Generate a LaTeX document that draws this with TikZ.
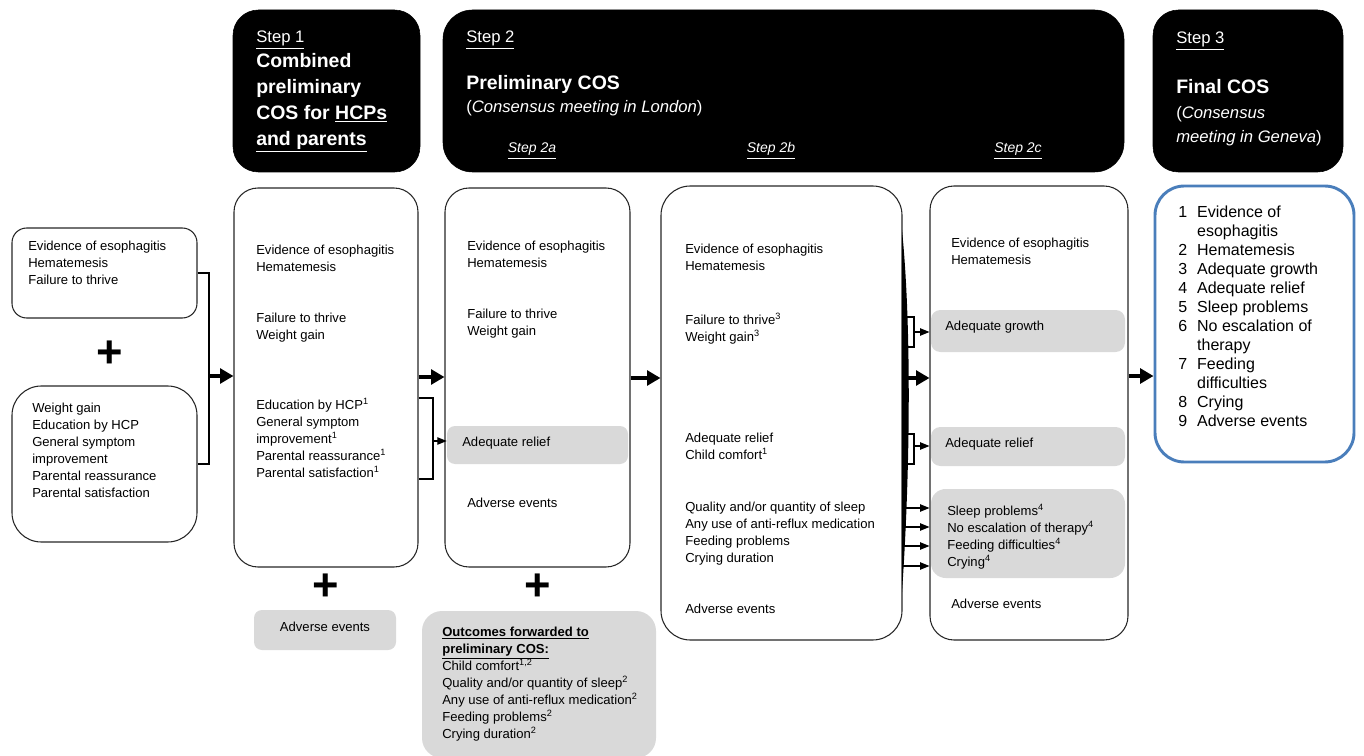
\documentclass[tikz,border=0pt]{standalone}
\usepackage{fontspec}
\setmainfont{Liberation Sans}
\usetikzlibrary{positioning}
\usetikzlibrary{fit}
\usetikzlibrary{arrows.meta}
\definecolor{cosblue}{HTML}{4A7EBB}
\definecolor{cosgrey}{HTML}{D9D9D9}

\begin{document}
\begin{tikzpicture}[x=0.75pt, y=-0.75pt,
    headbox/.style={rectangle, fill=black, draw=black, rounded corners=#1, inner sep=0pt},
    listbox/.style={rectangle, draw=black!85, line width=0.8pt, rounded corners=#1, inner sep=0pt},
    greybox/.style={rectangle, fill=cosgrey, rounded corners=#1, inner sep=0pt},
    finalbox/.style={rectangle, draw=cosblue, line width=2.2pt, rounded corners=22pt, inner sep=0pt},
    itemtext/.style={anchor=north west, align=left, inner sep=0pt, font=\fontsize{9.8}{12.75}\selectfont},
    steplabel/.style={anchor=base west, inner sep=0pt, text=white, font=\fontsize{12.5}{15}\selectfont},
    substep/.style={anchor=base, inner sep=0pt, text=white, font=\fontsize{10.5}{12}\selectfont\itshape},
    titletext/.style={anchor=base west, inner sep=0pt, text=white, font=\fontsize{14.6}{19.5}\selectfont\bfseries},
    titleblock/.style={anchor=north west, align=left, inner sep=0pt, text=white, font=\fontsize{14.6}{19.5}\selectfont\bfseries},
    subtext/.style={anchor=base west, inner sep=0pt, text=white, font=\fontsize{12.5}{18}\selectfont},
    subblock/.style={anchor=north west, align=left, inner sep=0pt, text=white, font=\fontsize{12.5}{18}\selectfont},
    plussign/.style={inner sep=0pt, font=\fontsize{34}{34}\selectfont\bfseries},
    bigarrow/.style={-{Triangle[length=10pt,width=11pt]}, line width=2.6pt},
    smallarrow/.style={-{Triangle[length=7pt,width=5.5pt]}, line width=0.8pt},
    bracket/.style={line width=1.3pt},
    thinbracket/.style={line width=0.9pt},
  ]
  \useasboundingbox (0,0) rectangle (1364,756);

  % Headers
  \node[headbox=19pt, fit={(233,10) (420,172)}] (step1_head) {};
  \node[steplabel] (step1_label) at (256,43) {\underline{Step 1}};
  \node[titleblock] (step1_title) at (256,53) {Combined\\preliminary\\COS for \underline{HCPs}\\\underline{and parents}};

  \node[headbox=22pt, fit={(443,10) (1124,172)}] (step2_head) {};
  \node[steplabel] (step2_label) at (466,43) {\underline{Step 2}};
  \node[titletext] (step2_title) at (466,90) {Preliminary COS};
  \node[subtext] (step2_sub) at (466,113) {(\textit{Consensus meeting in London})};
  \node[substep] (step2a_label) at (532,153) {\underline{Step 2a}};
  \node[substep] (step2b_label) at (771,153) {\underline{Step 2b}};
  \node[substep] (step2c_label) at (1018,153) {\underline{Step 2c}};

  \node[headbox=19pt, fit={(1153,10) (1343,172)}] (step3_head) {};
  \node[steplabel] (step3_label) at (1176,44) {\underline{Step 3}};
  \node[titletext] (step3_title) at (1176,94) {Final COS};
  \node[subblock] (step3_sub) at (1176,106) {(\textit{Consensus}\\\textit{meeting in Geneva})};

  % Starting lists
  \node[listbox=11pt, fit={(12,228) (197,318)}] (left_top) {};
  \node[itemtext] (left_top_text) at (28,241) {Evidence of esophagitis\\Hematemesis\\Failure to thrive};
  \node[plussign] (plus_0) at (110,354) {+};
  \node[listbox=22pt, fit={(12,386) (197,542)}] (left_bot) {};
  \node[itemtext] (left_bot_text) at (32,403) {Weight gain\\Education by HCP\\General symptom\\improvement\\Parental reassurance\\Parental satisfaction};

  % Step 1
  \node[listbox=18pt, fit={(234,188) (418,567)}] (step1_box) {};
  \node[itemtext] (step1_a) at (256,245) {Evidence of esophagitis\\Hematemesis};
  \node[itemtext] (step1_b) at (256,313) {Failure to thrive\\Weight gain};
  \node[itemtext] (step1_c) at (256,398) {Education by HCP\textsuperscript{1}\\General symptom\\improvement\textsuperscript{1}\\Parental reassurance\textsuperscript{1}\\Parental satisfaction\textsuperscript{1}};
  \node[plussign] (plus_1) at (step1_box.south |- 0,587) {+};
  \node[greybox=6pt, fit={(254,610) (396,650)}] (step1_adverse) {};
  \node[itemtext, anchor=center] (step1_adverse_text) at (325,627) {Adverse events};

  % Step 2a
  \node[listbox=18pt, fit={(445,188) (630,567)}] (step2a_box) {};
  \node[itemtext] (step2a_a) at (467,241) {Evidence of esophagitis\\Hematemesis};
  \node[itemtext] (step2a_b) at (467,309) {Failure to thrive\\Weight gain};
  \node[greybox=6pt, fit={(447,426) (628,464)}] (step2a_relief) {};
  \node[itemtext] (step2a_relief_text) at (462,437) {Adequate relief};
  \node[itemtext] (step2a_c) at (467,498) {Adverse events};
  \node[plussign] (plus_2) at (step2a_box.south |- 0,587) {+};
  \node[greybox=15pt, fit={(422,611) (656,758)}] (forwarded) {};
  \node[itemtext] (forwarded_text) at (442,627) {\underline{\textbf{Outcomes forwarded to}}\\\underline{\textbf{preliminary COS:}}\\Child comfort\textsuperscript{1,2}\\Quality and/or quantity of sleep\textsuperscript{2}\\Any use of anti-reflux medication\textsuperscript{2}\\Feeding problems\textsuperscript{2}\\Crying duration\textsuperscript{2}};

  % Step 2b
  \node[listbox=22pt, fit={(661,186) (902,640)}] (step2b_box) {};
  \node[itemtext] (step2b_a) at (685,244) {Evidence of esophagitis\\Hematemesis};
  \node[itemtext] (step2b_b) at (685,313) {Failure to thrive\textsuperscript{3}\\Weight gain\textsuperscript{3}};
  \node[itemtext] (step2b_c) at (685,433) {Adequate relief\\Child comfort\textsuperscript{1}};
  \node[itemtext] (step2b_d) at (685,502) {Quality and/or quantity of sleep\\Any use of anti-reflux medication\\Feeding problems\\Crying duration};
  \node[itemtext] (step2b_e) at (685,604) {Adverse events};
  \fill (902,230) .. controls (911,320) and (911,460) .. (902,592) -- cycle;

  % Step 2c
  \node[listbox=18pt, fit={(930,186) (1128,640)}] (step2c_box) {};
  \node[itemtext] (step2c_a) at (951,238) {Evidence of esophagitis\\Hematemesis};
  \node[greybox=7pt, fit={(931,310) (1125,352)}] (step2c_growth) {};
  \node[itemtext] (step2c_growth_text) at (945,321) {Adequate growth};
  \node[greybox=7pt, fit={(931,427) (1125,466)}] (step2c_relief) {};
  \node[itemtext] (step2c_relief_text) at (945,438) {Adequate relief};
  \node[greybox=11pt, fit={(931,489) (1125,578)}] (step2c_other) {};
  \node[itemtext] (step2c_other_text) at (947,504) {Sleep problems\textsuperscript{4}\\No escalation of therapy\textsuperscript{4}\\Feeding difficulties\textsuperscript{4}\\Crying\textsuperscript{4}};
  \node[itemtext] (step2c_e) at (951,599) {Adverse events};

  % Step 3
  \node[finalbox, fit={(1155,186) (1354,462)}] (final_box) {};
  \node[anchor=north west, inner sep=0pt, font=\fontsize{12}{14.25}\selectfont] (final_list) at (1178,204) {%
    \begin{tabular}{@{}l@{\hspace{7.5pt}}l@{}}
      1 & Evidence of\\ & esophagitis\\
      2 & Hematemesis\\
      3 & Adequate growth\\
      4 & Adequate relief\\
      5 & Sleep problems\\
      6 & No escalation of\\ & therapy\\
      7 & Feeding\\ & difficulties\\
      8 & Crying\\
      9 & Adverse events
    \end{tabular}};

  %Lines
  \coordinate (join_0) at (209,376);
  \draw[bracket] (left_top.east) -| (join_0) |- (left_bot.east);
  \draw[bigarrow] (join_0) -- (join_0 -| step1_box.west);

  \coordinate (join_1) at (433,441);
  \draw[bracket] (step1_box.east |- 0,398) -| (join_1) |- (step1_box.east |- 0,479);
  \draw[smallarrow] (join_1) -- (join_1 -| step2a_relief.west);
  \draw[bigarrow] (step1_box.east |- 0,377) -- (step2a_box.west |- 0,377);

  \draw[bigarrow] (step2a_box.east |- 0,378) -- (step2b_box.west |- 0,378);

  \coordinate (join_2) at (914,332);
  \draw[thinbracket] (step2b_box.east |- 0,317) -| (join_2) |- (step2b_box.east |- 0,347);
  \draw[smallarrow] (join_2) -- (join_2 -| step2c_box.west);
  \draw[bigarrow] (step2b_box.east |- 0,378) -- (step2c_box.west |- 0,378);
  \coordinate (join_3) at (914,446);
  \draw[thinbracket] (step2b_box.east |- 0,434) -| (join_3) |- (step2b_box.east |- 0,464);
  \draw[smallarrow] (join_3) -- (join_3 -| step2c_box.west);
  \foreach \y in {508,527,546,566}
    \draw[smallarrow] (step2b_box.east |- 0,\y) -- (step2c_box.west |- 0,\y);

  \draw[bigarrow] (step2c_box.east |- 0,376) -- (final_box.west |- 0,376);
\end{tikzpicture}
\end{document}
